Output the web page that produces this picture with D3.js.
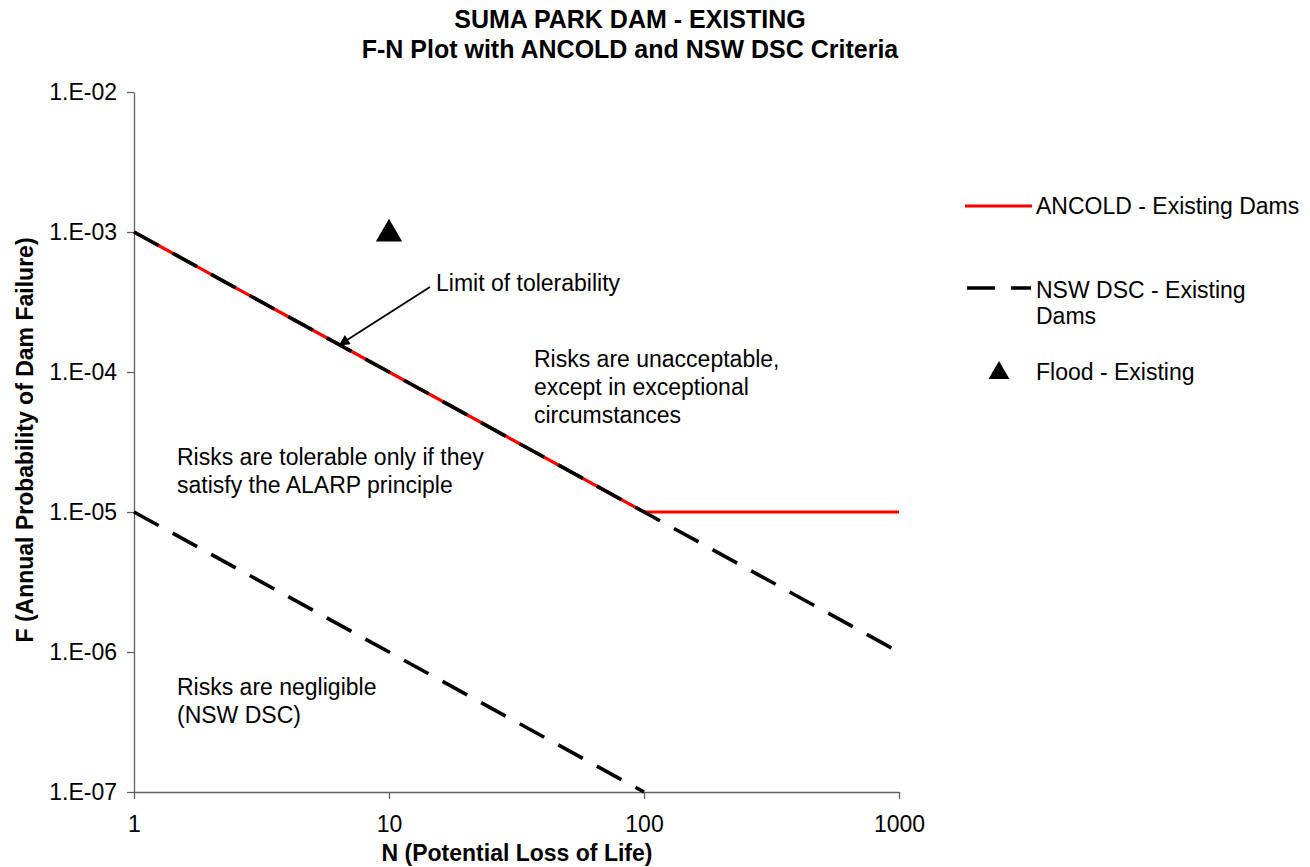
<!DOCTYPE html>
<html>
<head>
<meta charset="utf-8">
<script src="https://cdn.jsdelivr.net/npm/d3@7"></script>
<style>
  body { margin: 0; background: #fff; }
  svg { display: block; font-family: "Liberation Sans", Arial, sans-serif; }
</style>
</head>
<body>
<svg id="chart" width="1310" height="867"></svg>
<script>
// data
var ancoldN = [1, 100, 1000];
var ancoldF = [1e-3, 1e-5, 1e-5];
var nswUpperN = [1, 1000];
var nswUpperF = [1e-3, 1e-6];
var nswLowerN = [1, 100];
var nswLowerF = [1e-5, 1e-7];
var floodN = [10];
var floodF = [1e-3];
var xTicks = [1, 10, 100, 1000];
var yTicks = [1e-2, 1e-3, 1e-4, 1e-5, 1e-6, 1e-7];
var yTickLabels = ["1.E-02", "1.E-03", "1.E-04", "1.E-05", "1.E-06", "1.E-07"];

var svg = d3.select("#chart");
var fontSize = 23;

var x = d3.scaleLog().domain([1, 1000]).range([134, 899]);
var y = d3.scaleLog().domain([1e-7, 1e-2]).range([792, 92]);

function pts(ns, fs) {
    return ns.map(function(n, i) { return [n, fs[i]]; });
}
var line = d3.line().x(function(d) { return x(d[0]); }).y(function(d) { return y(d[1]); });

// title
svg.append("text").attr("x", 630).attr("y", 28).attr("text-anchor", "middle")
    .attr("font-weight", "bold").attr("font-size", 25).text("SUMA PARK DAM - EXISTING");
svg.append("text").attr("x", 630).attr("y", 58).attr("text-anchor", "middle")
    .attr("font-weight", "bold").attr("font-size", 25).text("F-N Plot with ANCOLD and NSW DSC Criteria");

// axes
var yAxis = d3.axisLeft(y).tickValues(yTicks).tickSize(7).tickSizeOuter(0).tickPadding(10)
    .tickFormat(function(d, i) { return yTickLabels[i]; });
var xAxis = d3.axisBottom(x).tickValues(xTicks).tickSize(7).tickSizeOuter(0).tickPadding(17)
    .tickFormat(d3.format("d"));

var gy = svg.append("g").attr("transform", "translate(134,0)").call(yAxis);
var gx = svg.append("g").attr("transform", "translate(0,792)").call(xAxis);
[gx, gy].forEach(function(g) {
    g.selectAll("path, line").attr("stroke", "#606060").attr("stroke-width", 1.3);
    g.selectAll("text").attr("font-size", fontSize).attr("fill", "#000")
        .attr("font-family", "'Liberation Sans', Arial, sans-serif");
});

svg.append("text").attr("x", 517).attr("y", 861).attr("text-anchor", "middle")
    .attr("font-weight", "bold").attr("font-size", fontSize).text("N (Potential Loss of Life)");
svg.append("text").attr("transform", "translate(33,440) rotate(-90)").attr("text-anchor", "middle")
    .attr("font-weight", "bold").attr("font-size", fontSize).text("F (Annual Probability of Dam Failure)");

// series
svg.append("path").attr("d", line(pts(ancoldN, ancoldF)))
    .attr("fill", "none").attr("stroke", "#ff0000").attr("stroke-width", 3.2);
svg.append("path").attr("d", line(pts(nswUpperN, nswUpperF)))
    .attr("fill", "none").attr("stroke", "#000").attr("stroke-width", 3.6)
    .attr("stroke-dasharray", "28,16");
svg.append("path").attr("d", line(pts(nswLowerN, nswLowerF)))
    .attr("fill", "none").attr("stroke", "#000").attr("stroke-width", 3.6)
    .attr("stroke-dasharray", "28,16");

var tri = d3.symbol().type(d3.symbolTriangle);
svg.selectAll(".flood").data(pts(floodN, floodF)).enter().append("path")
    .attr("class", "flood")
    .attr("d", tri.size(300))
    .attr("transform", function(d) { return "translate(" + x(d[0]) + "," + (y(d[1]) + 2) + ")"; })
    .attr("fill", "#000");

// annotations
svg.append("defs").append("marker").attr("id", "arrow")
    .attr("viewBox", "0 0 10 10").attr("refX", 9).attr("refY", 5)
    .attr("markerWidth", 7).attr("markerHeight", 6).attr("orient", "auto")
    .append("path").attr("d", "M0,0L10,5L0,10z").attr("fill", "#000");

var tipN = 6.4;
svg.append("line").attr("x1", 430).attr("y1", 287)
    .attr("x2", x(tipN)).attr("y2", y(1e-3 / tipN))
    .attr("stroke", "#000").attr("stroke-width", 1.8).attr("marker-end", "url(#arrow)");

function label(lines, lx, ly) {
    var t = svg.append("text").attr("x", lx).attr("y", ly).attr("font-size", fontSize);
    lines.forEach(function(s, i) {
        t.append("tspan").attr("x", lx).attr("dy", i === 0 ? 0 : 28).text(s);
    });
}
label(["Limit of tolerability"], 436, 291);
label(["Risks are unacceptable,", "except in exceptional", "circumstances"], 534, 367);
label(["Risks are tolerable only if they", "satisfy the ALARP principle"], 177, 465);
label(["Risks are negligible", "(NSW DSC)"], 177, 695);

// legend
var lg = svg.append("g");
lg.append("line").attr("x1", 965).attr("x2", 1032).attr("y1", 206).attr("y2", 206)
    .attr("stroke", "#ff0000").attr("stroke-width", 3.2);
lg.append("text").attr("x", 1036).attr("y", 214).attr("font-size", fontSize).text("ANCOLD - Existing Dams");
lg.append("line").attr("x1", 967).attr("x2", 1031).attr("y1", 288).attr("y2", 288)
    .attr("stroke", "#000").attr("stroke-width", 3.6).attr("stroke-dasharray", "28,16");
lg.append("text").attr("x", 1036).attr("y", 298).attr("font-size", fontSize)
    .call(function(t) {
        t.append("tspan").attr("x", 1036).text("NSW DSC - Existing");
        t.append("tspan").attr("x", 1036).attr("dy", 26).text("Dams");
    });
lg.append("path").attr("d", tri.size(190)).attr("transform", "translate(999,373)").attr("fill", "#000");
lg.append("text").attr("x", 1036).attr("y", 380).attr("font-size", fontSize).text("Flood - Existing");
</script>
</body>
</html>
